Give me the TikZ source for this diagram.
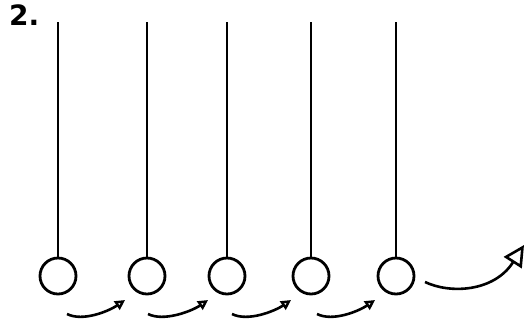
\documentclass[tikz,border=0pt]{standalone}
\usepackage{fontspec}
\setmainfont{DejaVu Sans}
\usetikzlibrary{arrows.meta,calc}
\begin{document}
\begin{tikzpicture}[x=1pt,y=-1pt,
  ball/.style={circle,draw,line width=2.8pt,minimum size=36pt,inner sep=0pt},
  wire/.style={line width=2.8pt},
  smallarrow/.style={line width=2.6pt,-{Triangle[open,length=10pt,width=10pt,line width=2.4pt]}},
  bigarrow/.style={line width=2.6pt,-{Triangle[open,length=21pt,width=21pt,line width=2.6pt]}}]
\useasboundingbox (0,0) rectangle (526,327);
\node[font=\bfseries\fontsize{28}{30}\selectfont,anchor=north west,inner sep=0pt] (lbl) at (9,5) {2.};
\foreach \i/\x in {1/58,2/147,3/227,4/311,5/396}{
  \node[ball] (b\i) at (\x,276) {};
  \coordinate (t\i) at (\x,22);
  \draw[wire] (t\i) -- (b\i.north);
}
\foreach \i/\sx/\ex in {1/67/125,2/148/208,3/232/291,4/317/375}{
  \coordinate (s\i) at (\sx,314);
  \coordinate (e\i) at (\ex,300);
}
\foreach \i in {1,2,3,4}{
  \draw[smallarrow] (s\i) .. controls ($(s\i)+(16,8)$) and ($(e\i)+(-16,11)$) .. (e\i);
}
\coordinate (bs) at (425,282);
\coordinate (be) at (524,245);
\draw[bigarrow] (bs) .. controls (450,294) and (494,292) .. (be);
\end{tikzpicture}
\end{document}
